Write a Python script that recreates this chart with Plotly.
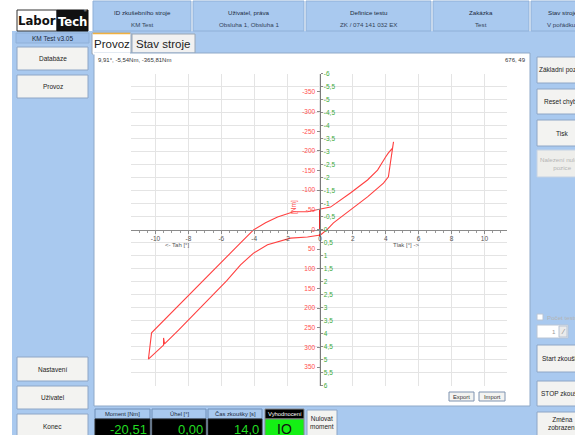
import plotly.graph_objects as go

W, H = 575, 435

# Torque vs. angle loop recorded during the test run
angle_deg = [0.03, 0.46, 0.82, 1.85, 2.89, 3.86, 4.16, 4.29, 4.47, 4.41, 4.16,
             3.98, 3.50, 2.89, 1.85, 1.25, 0.64, 0.03, -0.76, -1.61, -2.58,
             -3.31, -4.04, -4.83, -5.87, -7.08, -10.24, -10.43, -9.51, -9.51,
             -9.45, -8.60, -7.08, -5.68, -4.83, -4.04, -3.19, -2.58, -1.79,
             -0.76, 0.03]
moment_nm = [14, -1, -17, -50, -83, -118, -134, -172, -223, -207, -195,
             -184, -151, -126, -93, -75, -57, -52, -45, -45, -32,
             -17, 1, 34, 78, 128, 263, 330, 294, 276,
             291, 256, 192, 131, 90, 60, 39, 32, 22,
             19, 14]

# Zero-position step at 0 degrees
step_angle = [0.0, 0.0]
step_moment = [-52, 17]

# Axis ticks
angle_ticks = [-10, -8, -6, -4, -2, 0, 2, 4, 6, 8, 10]
moment_ticks = [-350, -300, -250, -200, -150, -100, -50, 0, 50, 100, 150, 200, 250, 300, 350]
secondary_ticks = [-6, -5.5, -5, -4.5, -4, -3.5, -3, -2.5, -2, -1.5, -1, -0.5, 0,
                   0.5, 1, 1.5, 2, 2.5, 3, 3.5, 4, 4.5, 5, 5.5, 6]
secondary_labels = ["-6", "-5,5", "-5", "-4,5", "-4", "-3,5", "-3", "-2,5", "-2", "-1,5",
                    "-1", "-0,5", "0", "0,5", "1", "1,5", "2", "2,5", "3", "3,5", "4",
                    "4,5", "5", "5,5", "6"]
grid_rows = [-5.5, -5, -4.5, -4, -3.5, -3, -2.5, -2, -1.5, -1, -0.5,
             0.5, 1, 1.5, 2, 2.5, 3, 3.5, 4, 4.5, 5, 5.5]

UI_FONT = "Liberation Sans"
BLUE = "#a9c9ef"
BTN = "#f3f3f1"
BTN_LINE = "#8ea6c6"


def X(px):
    return px / W


def Y(py):
    return 1 - py / H


shapes = []
annotations = []


def box(x0, y0, x1, y1, fill, line=None, width=1, layer="below"):
    shapes.append(dict(type="rect", xref="paper", yref="paper",
                       x0=X(x0), x1=X(x1), y0=Y(y1), y1=Y(y0),
                       fillcolor=fill,
                       line=dict(color=line if line else fill, width=width if line else 0),
                       layer=layer))


def label(x, y, text, size=6.5, color="#222222", xanchor="center", family=UI_FONT, angle=0):
    annotations.append(dict(xref="paper", yref="paper", x=X(x), y=Y(y), text=text,
                            showarrow=False, xanchor=xanchor, yanchor="middle",
                            textangle=angle, borderpad=0,
                            font=dict(size=size, color=color, family=family)))


# ---- window chrome ----
box(12, 31, 92, 435, BLUE)                     # left sidebar
box(92, 31, 575, 435, BLUE)                    # working area
# header cells
header = [(92, 192, "ID zkušebního stroje", "KM Test"),
          (192, 305, "Uživatel, práva", "Obsluha 1, Obsluha 1"),
          (305, 432, "Definice testu", "ZK / 074 141 032 EX"),
          (432, 530, "Zakázka", "Test")]
for x0, x1, title, value in header:
    box(x0 + 1, 1, x1 - 1, 31, BLUE, "#8fb0d8")
    label((x0 + x1) / 2, 13, title, 6.2, "#1a2a40")
    label((x0 + x1) / 2, 24, value, 6.2, "#33445a")
box(531, 1, 600, 31, BLUE, "#8fb0d8")
label(547, 13, "Stav stroje", 6.2, "#1a2a40", xanchor="left")
label(546, 24, "V pořádku", 6.2, "#33445a", xanchor="left")

# logo
box(17, 10, 57, 31, "#ffffff", "#333333")
box(57, 10, 88, 31, "#111111", "#111111")
label(37, 21, "<b>Labor</b>", 13, "#111111", family="DejaVu Sans Condensed")
label(72, 21.5, "<b>Tech</b>", 13, "#ffffff", family="DejaVu Sans Condensed")
label(88, 11.5, "®", 3.5, "#ffffff", xanchor="right")
box(16, 33, 89, 43, "#9fc0ea", "#8fb0d8")
label(52, 38, "KM Test v3.05", 6.5, "#1a2a40")

# left menu buttons
for y0, y1, txt in [(47, 70, "Databáze"), (75, 98, "Provoz"), (357, 381, "Nastavení"),
                    (386, 409, "Uživatel"), (414, 440, "Konec")]:
    box(17, y0, 88, y1, BTN, BTN_LINE)
    label(52.5, (y0 + y1) / 2 if y1 < 435 else 426, txt, 6.5, "#222222")

# tabs
box(132, 34, 195, 53, "#f1f1f1", "#9aa6b4")
label(163, 44, "Stav stroje", 11.5, "#222222")
box(92, 33, 131, 54, "#ffffff", "#9aa6b4")
shapes.append(dict(type="line", xref="paper", yref="paper", x0=X(93), x1=X(130),
                   y0=Y(33.5), y1=Y(33.5), line=dict(color="#f0b040", width=1.5),
                   layer="below"))
label(112, 44, "Provoz", 11.5, "#222222")

# chart panel
box(94, 53, 530, 406, "#ffffff", "#8fa9c8")
shapes.append(dict(type="line", xref="paper", yref="paper", x0=X(93), x1=X(130),
                   y0=Y(53.5), y1=Y(53.5), line=dict(color="#ffffff", width=2),
                   layer="below"))
label(97, 60, "9,91°, -5,54Nm, -365,81Nm", 6, "#333333", xanchor="left")
label(527, 60, "676, 49", 6, "#333333", xanchor="right")
box(449, 392, 474, 401, BTN, "#7f93b0")
label(461.5, 396.5, "Export", 5.8, "#333333")
box(479, 392, 505, 401, BTN, "#7f93b0")
label(492, 396.5, "Import", 5.8, "#333333")

# axis captions
label(177, 245, "<- Tah [°]", 6, "#555555")
label(406, 245, "Tlak [°] ->", 6, "#555555")
label(294, 207, "[Nm]", 6.5, "#ff4d4d", angle=-90)

# right side buttons
for y0, y1, txt in [(57, 83, "Základní pozice"), (89, 114, "Reset chyby"), (120, 146, "Tisk"),
                    (345, 372, "Start zkoušky"), (381, 406, "STOP zkoušky")]:
    box(537, y0, 600, y1, BTN, BTN_LINE)
    label(562, (y0 + y1) / 2, txt, 6.5, "#222222")
box(537, 412, 600, 445, BTN, BTN_LINE)
label(562, 423, "Změna<br>zobrazení", 6.5, "#222222")
box(537, 150, 600, 177, "#eeeeeb", "#c4d2e4")
label(562, 163.5, "Nalezení nulové<br>pozice", 6.2, "#b4b4b4")
box(537, 314, 543, 320, "#ffffff", "#b8c4d4")
label(546, 317, "Počet testů", 6.2, "#b4b4b4", xanchor="left")
box(537, 325, 568, 338, "#ffffff", "#b8c4d4")
label(557, 331.5, "1", 6.2, "#999999", xanchor="right")
box(559, 326, 567, 337, "#ebebeb", "#b8c4d4")
label(563, 331.5, "⁄", 7, "#777777")

# status bar
for x0, x1, title, value in [(95, 150, "Moment [Nm]", "-20,51"),
                             (152, 206, "Úhel [°]", "0,00"),
                             (208, 262, "Čas zkoušky [s]", "14,0")]:
    box(x0, 409, x1, 419, BLUE, "#6f8fb8")
    label((x0 + x1) / 2, 414, title, 5.8, "#1a2a40")
    box(x0, 419, x1, 440, "#000000", "#222222")
    label(x1 - 2, 429, value, 13, "#22dd22", xanchor="right")
box(265, 409, 304, 419, "#000000", "#888888")
label(284.5, 414, "Vyhodnocení", 5.8, "#ffffff")
box(265, 419, 304, 440, "#14f014", "#888888")
label(284.5, 429, "IO", 14, "#111111")
box(307, 410, 337, 440, BTN, BTN_LINE)
label(322, 422, "Nulovat<br>moment", 6.5, "#222222")

# ---- chart ----
AX_X = 319.5
AX_Y = 229.5
TOP, BOT = 73.5, 385.5

fig = go.Figure()
fig.add_trace(go.Scatter(x=angle_deg, y=moment_nm, mode="lines",
                         line=dict(color="#ff4040", width=1.1), hoverinfo="skip",
                         showlegend=False))
fig.add_trace(go.Scatter(x=step_angle, y=step_moment, mode="lines",
                         line=dict(color="#dd0000", width=1.6), hoverinfo="skip",
                         showlegend=False))
fig.add_trace(go.Scatter(x=[], y=[], yaxis="y2", showlegend=False, hoverinfo="skip"))
fig.add_trace(go.Scatter(x=[], y=[], yaxis="y3", showlegend=False, hoverinfo="skip"))

fig.update_layout(
    width=W, height=H,
    margin=dict(l=0, r=0, t=0, b=0),
    template="none",
    paper_bgcolor="#ffffff",
    plot_bgcolor="rgba(0,0,0,0)",
    font=dict(family=UI_FONT),
    showlegend=False,
    shapes=shapes,
    annotations=annotations,
    xaxis=dict(
        domain=[X(131), X(507)], range=[-11.49, 11.37],
        anchor="free", position=Y(AX_Y),
        tickmode="array", tickvals=angle_ticks,
        ticktext=[str(v) for v in angle_ticks],
        tickfont=dict(size=6.5, color="#555555"),
        ticks="outside", ticklen=3, tickcolor="#8a8a8a",
        showline=True, linecolor="#8a8a8a", linewidth=1,
        showgrid=True, gridcolor="#e4e4e4", gridwidth=1,
        zeroline=False,
        minor=dict(tickmode="linear", tick0=0, dtick=0.5, ticks="outside",
                   ticklen=2, tickcolor="#9a9a9a", showgrid=False),
    ),
    yaxis=dict(
        domain=[Y(BOT), Y(TOP)], range=[397, -397],
        anchor="free", position=X(AX_X), side="left",
        tickmode="array", tickvals=moment_ticks,
        ticktext=[str(v) for v in moment_ticks],
        tickfont=dict(size=6.5, color="#ff4d4d"),
        ticks="outside", ticklen=3, tickcolor="#8a8a8a",
        showline=True, linecolor="#7a7a7a", linewidth=1,
        showgrid=False, zeroline=False,
    ),
    yaxis2=dict(
        overlaying="y", range=[6, -6],
        anchor="free", position=X(AX_X), side="right",
        tickmode="array", tickvals=secondary_ticks, ticktext=secondary_labels,
        tickfont=dict(size=6.5, color="#3aaa3a"),
        ticks="outside", ticklen=2, tickcolor="#8a8a8a",
        showline=False, showgrid=False, zeroline=False,
    ),
    yaxis3=dict(
        overlaying="y", range=[6, -6],
        anchor="free", position=0,
        tickmode="array", tickvals=grid_rows,
        showticklabels=False, ticks="",
        showline=False, showgrid=True, gridcolor="#e4e4e4", gridwidth=1,
        zeroline=False,
    ),
)

fig.write_html("out.html")
